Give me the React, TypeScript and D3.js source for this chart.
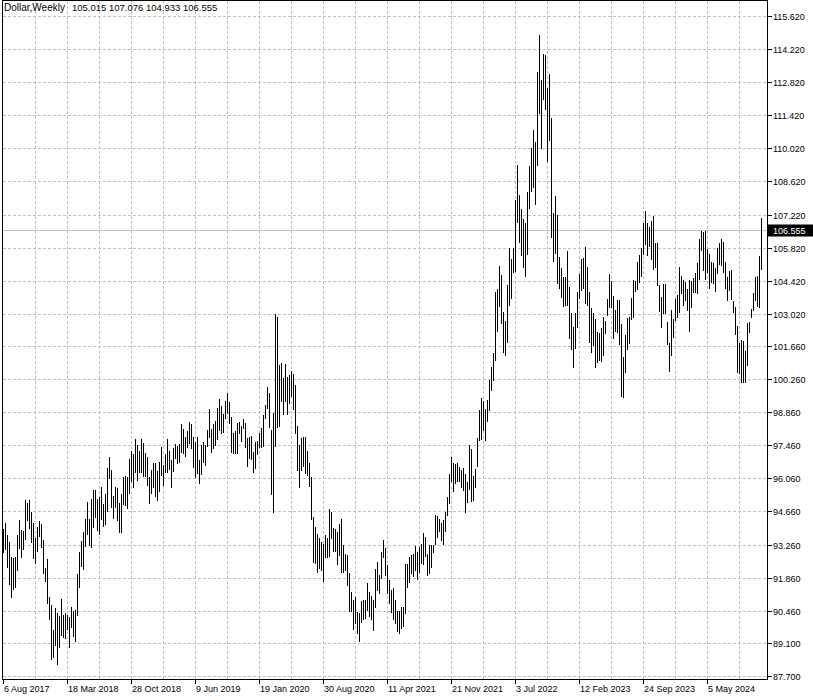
import * as d3 from 'd3';

const symbolName = 'Dollar,Weekly';
const lastOhlc = [105.015, 107.076, 104.933, 106.555];

// weekly high / low, one entry per week starting 6 Aug 2017
const highs = [
  93.92, 94.16, 93.66, 93.35, 92.75, 92.70, 92.75, 93.66, 94.30, 93.87,
  93.83, 95.14, 95.00, 95.14, 94.65, 94.19, 93.52, 94.02, 94.26, 94.13,
  93.45, 92.28, 92.65, 91.05, 90.70, 89.64, 90.56, 90.35, 90.24, 90.96,
  90.28, 90.35, 90.28, 90.21, 90.60, 90.46, 90.49, 92.01, 92.93, 93.42,
  93.80, 94.33, 95.07, 94.33, 95.17, 95.57, 95.57, 95.17, 95.28, 95.68,
  94.96, 95.40, 96.48, 96.98, 96.41, 95.31, 95.71, 95.64, 95.00, 95.40,
  96.13, 96.16, 96.13, 96.88, 97.23, 97.09, 97.71, 97.47, 97.22, 97.71,
  97.54, 97.15, 96.98, 96.13, 96.41, 96.69, 96.69, 96.38, 96.77, 97.40,
  96.63, 97.09, 97.71, 97.23, 96.84, 97.33, 97.52, 97.43, 97.52, 98.36,
  98.15, 97.80, 98.07, 98.43, 98.36, 97.82, 97.61, 97.80, 96.84, 97.47,
  97.59, 97.47, 98.11, 98.98, 98.15, 98.36, 98.49, 99.05, 99.40, 99.12,
  98.78, 99.33, 99.69, 99.28, 98.67, 97.97, 98.07, 98.42, 98.43, 98.29,
  98.57, 98.39, 97.75, 97.80, 97.85, 97.19, 97.59, 97.64, 97.99, 98.21,
  98.74, 99.17, 99.91, 99.66, 98.11, 98.81, 103.01, 102.90, 100.86, 100.93,
  100.29, 100.90, 100.34, 100.43, 100.60, 100.46, 100.01, 98.28, 97.47, 97.75,
  97.80, 97.82, 97.22, 96.70, 96.10, 94.41, 94.02, 93.69, 93.52, 93.38,
  93.27, 93.67, 93.52, 94.75, 94.65, 93.95, 93.91, 93.81, 94.13, 94.34,
  93.24, 92.85, 92.82, 92.04, 91.24, 90.92, 91.06, 90.39, 90.38, 90.87,
  90.92, 90.92, 91.62, 91.24, 91.10, 90.92, 92.23, 92.51, 91.97, 92.93,
  93.45, 93.13, 92.40, 91.76, 91.34, 91.44, 90.92, 90.45, 90.45, 90.63,
  90.61, 92.42, 92.44, 92.75, 92.82, 92.85, 93.20, 92.96, 93.17, 93.28,
  93.74, 93.57, 92.85, 93.24, 93.24, 93.24, 94.51, 94.48, 94.34, 94.16,
  94.30, 94.65, 95.26, 96.23, 96.95, 96.70, 96.65, 96.73, 96.56, 96.41,
  96.49, 96.25, 95.90, 97.47, 97.29, 96.14, 96.45, 97.76, 98.96, 99.45,
  99.35, 98.98, 99.38, 100.22, 100.79, 101.35, 103.96, 104.06, 105.05, 104.67,
  103.11, 102.72, 104.24, 105.82, 105.34, 105.79, 107.84, 109.32, 108.05, 107.46,
  107.02, 106.85, 108.19, 109.28, 110.05, 110.80, 110.31, 113.24, 114.82, 112.91,
  114.00, 113.97, 112.56, 113.17, 111.29, 107.30, 108.01, 107.20, 105.44, 104.95,
  104.57, 104.60, 105.68, 104.17, 103.04, 102.45, 103.04, 103.96, 104.69, 105.33,
  105.40, 105.86, 105.00, 103.96, 103.28, 103.07, 102.82, 102.27, 102.20, 102.44,
  102.90, 102.72, 103.64, 104.71, 104.42, 103.78, 103.19, 103.61, 103.61, 102.59,
  101.21, 102.13, 102.83, 102.90, 103.68, 104.46, 104.41, 105.20, 105.51, 105.82,
  106.88, 107.37, 106.85, 106.71, 106.96, 107.17, 106.03, 106.00, 104.24, 103.75,
  104.27, 104.27, 102.69, 101.80, 103.18, 102.80, 103.66, 103.82, 105.02, 104.62,
  104.45, 104.35, 104.06, 104.45, 104.42, 104.52, 104.74, 105.16, 106.17, 106.53,
  106.49, 106.53, 105.77, 105.55, 105.23, 105.16, 104.95, 105.82, 106.00, 106.17,
  106.07, 105.23, 104.59, 104.83, 104.87, 103.58, 103.32, 102.51, 101.80, 101.91,
  101.89, 101.46, 102.65, 102.69, 103.21, 103.89, 104.57, 104.62, 105.47, 107.076,
];

const lows = [
  92.93, 93.06, 92.32, 91.60, 91.03, 91.39, 91.45, 92.18, 93.10, 92.75,
  93.06, 93.48, 94.30, 93.95, 93.38, 92.68, 92.49, 92.99, 93.64, 93.14,
  92.07, 91.73, 90.77, 90.10, 88.40, 88.52, 89.01, 88.21, 88.94, 89.43,
  89.36, 89.29, 89.67, 88.94, 89.79, 89.39, 89.19, 90.28, 91.48, 92.35,
  92.21, 93.20, 93.71, 93.24, 93.17, 94.02, 94.44, 93.87, 93.71, 94.33,
  94.06, 94.13, 94.68, 96.06, 94.86, 94.40, 94.86, 94.30, 93.79, 93.80,
  94.97, 94.93, 94.79, 95.43, 95.96, 95.68, 96.34, 95.99, 96.34, 96.34,
  96.16, 96.16, 95.78, 95.03, 95.45, 95.71, 95.31, 95.14, 95.52, 96.20,
  95.78, 96.35, 96.35, 96.44, 95.71, 96.39, 96.94, 96.72, 96.77, 97.19,
  97.12, 97.02, 97.40, 97.57, 97.33, 96.56, 96.13, 96.27, 95.85, 96.25,
  96.77, 96.63, 97.44, 97.82, 97.19, 97.33, 97.47, 97.71, 98.11, 97.99,
  98.01, 98.60, 98.81, 98.42, 97.19, 97.15, 97.15, 97.15, 97.97, 97.66,
  98.18, 97.37, 96.60, 96.91, 96.88, 96.35, 96.49, 97.08, 97.40, 97.40,
  97.44, 98.60, 99.02, 98.22, 95.39, 94.62, 97.44, 98.25, 98.28, 99.35,
  98.78, 99.35, 98.77, 99.24, 99.56, 98.98, 97.97, 96.41, 95.71, 96.41,
  96.60, 96.27, 96.20, 95.74, 94.33, 92.54, 92.50, 92.11, 92.26, 92.18,
  91.73, 92.75, 92.75, 92.78, 93.52, 92.99, 93.00, 92.44, 92.82, 92.11,
  92.11, 92.18, 91.55, 90.46, 90.46, 89.69, 89.93, 89.51, 89.20, 90.00,
  90.10, 90.17, 90.49, 90.25, 90.11, 89.65, 90.63, 91.34, 91.23, 91.83,
  92.75, 91.97, 91.20, 90.80, 90.42, 90.10, 89.96, 89.62, 89.53, 89.72,
  89.83, 90.35, 91.48, 91.69, 92.07, 91.93, 92.18, 91.79, 92.11, 92.47,
  92.44, 92.78, 91.97, 92.07, 92.33, 92.96, 93.27, 93.59, 93.83, 93.45,
  93.27, 93.85, 94.51, 95.00, 95.95, 95.54, 95.85, 95.95, 95.95, 95.70,
  95.58, 94.64, 95.04, 95.63, 95.12, 95.15, 95.68, 96.59, 97.69, 97.71,
  98.11, 97.69, 98.50, 98.96, 99.80, 100.22, 101.07, 102.31, 103.36, 102.65,
  101.39, 101.28, 101.85, 103.40, 103.68, 104.81, 104.84, 106.89, 106.08, 105.51,
  104.99, 104.64, 105.54, 107.49, 108.23, 108.40, 107.67, 109.32, 111.50, 110.05,
  112.10, 111.69, 109.50, 110.38, 106.29, 105.27, 105.58, 104.34, 104.10, 103.75,
  103.37, 103.40, 103.40, 101.99, 101.52, 100.79, 101.56, 102.48, 103.68, 104.03,
  104.10, 103.47, 103.40, 101.85, 101.39, 101.71, 100.79, 101.00, 101.07, 101.03,
  101.30, 102.20, 102.97, 103.33, 103.30, 101.99, 102.31, 102.27, 101.75, 99.55,
  99.52, 100.54, 101.52, 101.77, 102.79, 102.90, 104.00, 104.06, 104.38, 104.62,
  105.55, 105.96, 105.51, 105.89, 105.33, 104.90, 105.02, 104.24, 103.16, 102.45,
  103.04, 103.04, 101.75, 100.62, 101.28, 102.06, 102.76, 102.87, 103.11, 103.92,
  103.40, 103.61, 103.18, 102.31, 103.30, 103.96, 103.96, 103.89, 104.50, 105.72,
  104.88, 104.50, 104.80, 104.10, 104.38, 104.34, 104.00, 104.76, 105.12, 105.09,
  104.80, 104.10, 103.61, 104.03, 103.63, 103.11, 102.17, 100.57, 100.53, 100.15,
  100.15, 100.15, 100.86, 102.27, 102.90, 103.18, 103.61, 103.35, 103.33, 104.933,
];

const priceTicks = [
  115.62, 114.22, 112.82, 111.42, 110.02, 108.62, 107.22, 105.82, 104.42, 103.02,
  101.66, 100.26, 98.86, 97.46, 96.06, 94.66, 93.26, 91.86, 90.46, 89.1, 87.7,
];

// one label every 32 weeks
const dateLabels = [
  '6 Aug 2017', '18 Mar 2018', '28 Oct 2018', '9 Jun 2019', '19 Jan 2020', '30 Aug 2020',
  '11 Apr 2021', '21 Nov 2021', '3 Jul 2022', '12 Feb 2023', '24 Sep 2023', '5 May 2024',
];

const FONT = '"Liberation Sans", Arial, sans-serif';
const GRID = '#c0c0c0';

export default function App() {
  const width = 813;
  const height = 700;
  const left = 2.5;
  const right = 767.5;
  const top = 0.5;
  const bottom = 679.5;

  const x = d3.scaleLinear().domain([0, highs.length - 1]).range([3, 3 + 2 * (highs.length - 1)]);
  const y = d3.scaleLinear().domain([87.7, 115.62]).range([676, 16]);

  const vGrid = d3.range(16, highs.length, 16);
  const last = lastOhlc[3];
  const yLast = Math.round(y(last)) + 0.5;

  return (
    <svg
      width={width}
      height={height}
      style={{ position: 'absolute', left: 0, top: 0, background: '#fff' }}
      fontFamily={FONT}
    >
      <rect width={width} height={height} fill="#fff" />

      {/* grid */}
      <g stroke={GRID} strokeDasharray="3 2" shapeRendering="crispEdges">
        {priceTicks.map((p) => (
          <line key={p} x1={left} x2={right} y1={Math.round(y(p)) + 0.5} y2={Math.round(y(p)) + 0.5} />
        ))}
        {vGrid.map((i) => (
          <line key={i} x1={x(i) + 0.5} x2={x(i) + 0.5} y1={top} y2={bottom} />
        ))}
      </g>

      {/* last price line */}
      <line x1={left} x2={right} y1={yLast} y2={yLast} stroke="#c0c0c0" shapeRendering="crispEdges" />

      {/* bars */}
      <g fill="#000" shapeRendering="crispEdges">
        {highs.map((h, i) => {
          const y0 = Math.round(y(h));
          const y1 = Math.round(y(lows[i]));
          return <rect key={i} x={x(i)} y={y0} width={1} height={Math.max(1, y1 - y0 + 1)} />;
        })}
      </g>

      {/* frame */}
      <path
        d={`M${left},${top}H${right}V${bottom}H${left}Z`}
        fill="none"
        stroke="#000"
        shapeRendering="crispEdges"
      />

      {/* price axis */}
      <g fontSize={9} fill="#000">
        {priceTicks.map((p) => {
          const yy = Math.round(y(p)) + 0.5;
          return (
            <g key={p}>
              <line x1={right} x2={right + 4} y1={yy} y2={yy} stroke="#000" shapeRendering="crispEdges" />
              <text x={773} y={yy} dy="0.35em">
                {p.toFixed(3)}
              </text>
            </g>
          );
        })}
      </g>
      <rect x={768} y={yLast - 6} width={45} height={12} fill="#000" />
      <text x={773} y={yLast} dy="0.35em" fontSize={9} fill="#fff">
        {last.toFixed(3)}
      </text>

      {/* time axis */}
      <g fontSize={9} fill="#000">
        {dateLabels.map((d, k) => {
          const xx = x(k * 32) + 0.5;
          return (
            <g key={d}>
              <line x1={xx} x2={xx} y1={bottom} y2={bottom + 4} stroke="#000" shapeRendering="crispEdges" />
              <text x={xx + 0.5} y={692}>
                {d}
              </text>
            </g>
          );
        })}
      </g>

      {/* header */}
      <text x={4} y={11} fontSize={10} fill="#000">
        {symbolName}
      </text>
      <text x={72} y={11} fontSize={9.5} fill="#000">
        {lastOhlc.map((v) => v.toFixed(3)).join(' ')}
      </text>
    </svg>
  );
}
